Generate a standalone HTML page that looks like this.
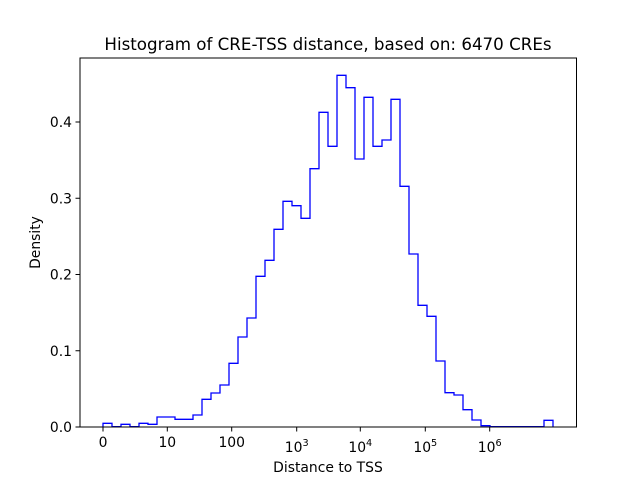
<!DOCTYPE html>
<html><head><meta charset="utf-8"><style>body{margin:0;background:#fff}svg{display:block}text{font-family:"DejaVu Sans","Liberation Sans",sans-serif;fill:#000}</style></head>
<body>
<svg width="640" height="480" viewBox="0 0 640 480" xmlns="http://www.w3.org/2000/svg">
<rect width="640" height="480" fill="#fff"/>
<path fill="none" stroke="#0000ff" stroke-width="1.3" stroke-linejoin="miter" d="M103,427 V423.3 H112 V426.7 H121 V424.3 H130 V426.7 H139 V423.3 H148 V424.3 H157 V417 H166 V417 H175 V419.3 H184 V419.3 H193 V415 H202 V399.3 H211 V393 H220 V385 H229 V363.3 H238 V337 H247 V318 H256 V276.3 H265 V260.3 H274 V229.3 H283 V201.3 H292 V205.7 H301 V218.3 H310 V168.7 H319 V112.3 H328 V146.3 H337 V75.3 H346 V87.7 H355 V159 H364 V97.3 H373 V146.3 H382 V140 H391 V99.3 H400 V186.3 H409 V254 H418 V305.3 H427 V316.3 H436 V361 H445 V392.7 H454 V395 H463 V409.7 H472 V420 H481 V425.7 H490 V426.7 H544 V420.3 H553 V427"/>
<rect x="80" y="58" width="496.5" height="369" fill="none" stroke="#000" stroke-width="1"/>
<g stroke="#000" stroke-width="1">
<line x1="103" y1="427" x2="103" y2="431.5"/><line x1="167.3" y1="427" x2="167.3" y2="431.5"/><line x1="231.7" y1="427" x2="231.7" y2="431.5"/><line x1="296.7" y1="427" x2="296.7" y2="431.5"/><line x1="360.3" y1="427" x2="360.3" y2="431.5"/><line x1="425.3" y1="427" x2="425.3" y2="431.5"/><line x1="489.7" y1="427" x2="489.7" y2="431.5"/>
<line x1="75.5" y1="427" x2="80" y2="427"/><line x1="75.5" y1="350.75" x2="80" y2="350.75"/><line x1="75.5" y1="274.5" x2="80" y2="274.5"/><line x1="75.5" y1="198.25" x2="80" y2="198.25"/><line x1="75.5" y1="122" x2="80" y2="122"/>
</g>
<g font-size="13.9" text-anchor="middle">
<text x="103" y="447">0</text><text x="167.3" y="447">10</text><text x="231.7" y="447">100</text>
<text x="296.7" y="452">10<tspan font-size="9.7" dy="-6">3</tspan></text>
<text x="360.3" y="452">10<tspan font-size="9.7" dy="-6">4</tspan></text>
<text x="425.3" y="452">10<tspan font-size="9.7" dy="-6">5</tspan></text>
<text x="489.7" y="452">10<tspan font-size="9.7" dy="-6">6</tspan></text>
</g>
<g font-size="13.9" text-anchor="end">
<text x="72" y="432">0.0</text><text x="72" y="355.8">0.1</text><text x="72" y="279.5">0.2</text><text x="72" y="203.3">0.3</text><text x="72" y="127">0.4</text>
</g>
<text x="328" y="472" font-size="13.9" text-anchor="middle">Distance to TSS</text>
<text transform="translate(40,242.5) rotate(-90)" font-size="13.9" text-anchor="middle">Density</text>
<text x="328" y="50" font-size="16.7" text-anchor="middle">Histogram of CRE-TSS distance, based on: 6470 CREs</text>
</svg>
</body></html>
